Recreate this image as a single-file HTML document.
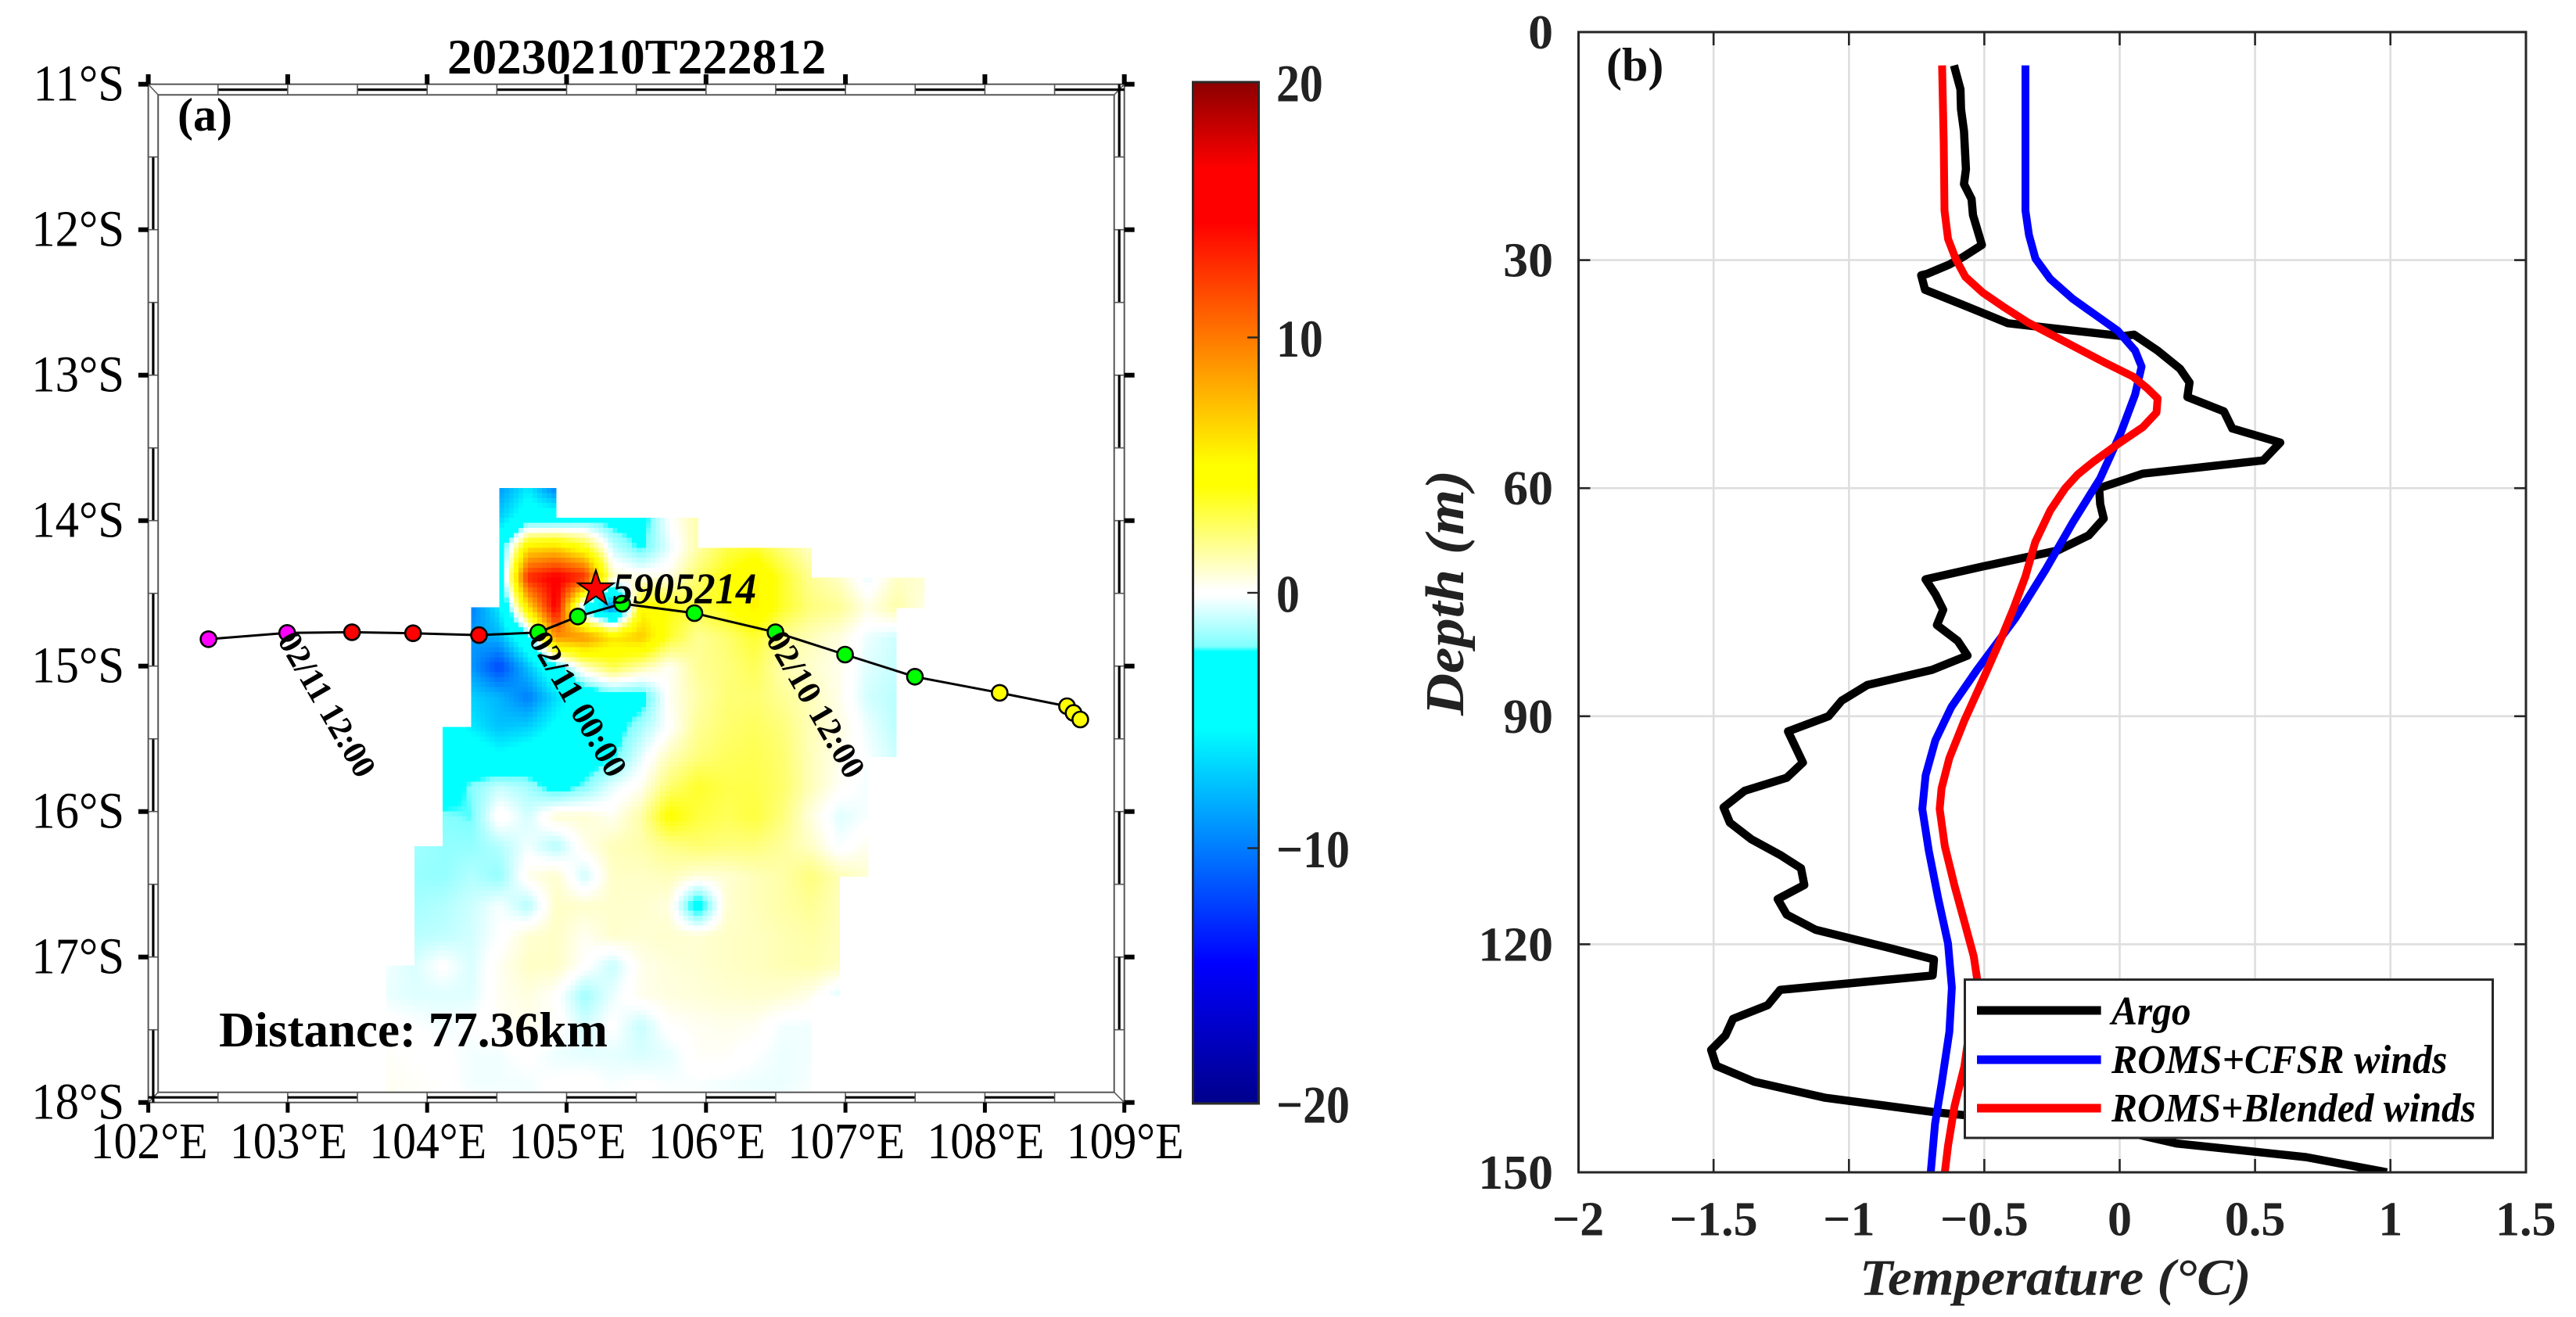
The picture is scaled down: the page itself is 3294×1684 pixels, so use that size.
<!DOCTYPE html>
<html lang="en">
<head>
<meta charset="utf-8">
<title>SST anomaly map and temperature profile</title>
<style>
html,body{margin:0;padding:0;background:#fff;}
svg{display:block;}
text{font-family:"Liberation Serif","Times New Roman",serif;}
</style>
</head>
<body>
<svg xmlns="http://www.w3.org/2000/svg" width="3294" height="1684" viewBox="0 0 3294 1684">
  <defs>
    <clipPath id="map-clip"><rect x="202" y="121.3" width="1222.7" height="1275.4"></rect></clipPath>
    <clipPath id="profile-clip"><rect x="2018.5" y="41" width="1211.5" height="1458"></rect></clipPath>
    <linearGradient id="cbar-gradient" x1="0" y1="0" x2="0" y2="1"></linearGradient>
  </defs>
  <rect x="0" y="0" width="3294" height="1684" fill="#ffffff"></rect>
  <g id="heat" clip-path="url(#map-clip)" shape-rendering="crispEdges"></g>
  <g id="frame"></g>
  <g id="track"></g>
  <g id="maplabels"></g>
  <g id="cbar"></g>
  <g id="pgrid"></g>
  <g id="plines" clip-path="url(#profile-clip)"></g>
  <g id="paxes"></g>
  <g id="legend"></g>
</svg>
<script>
// ---------- Panel (a) data ----------
const N = null;
const gridLon0 = 103.706;
const gridLat0 = 13.776;
const gridDLon = 0.2032;
const gridDLat = 0.20516;
const sstRows = [
[N,N,N,N,-9,-6,-10],
[N,N,N,N,-7,-4,-4,-3,-3,-3,0,1.5],
[N,N,N,N,-4,6,6.5,4,-1,-2.5,-.5,1.5,3,3.5,2.2,1],
[N,N,N,N,-4,13,15,13,1,.5,.5,2.5,4,5.5,3.5,1.8,1,-.5,1,.8],
[N,N,N,-10,-6,6,15,-3,-10,5,4,3,4,5.5,3.5,2.2,1.8,.5,1.5,.5],
[N,N,N,-9,-8,-3,9,9,6,7,3.5,1.8,2.4,3.4,1.8,1.2,.6,-.4,-.9],
[N,N,N,-9,-12,-7.5,-3,1,3,1.5,.2,1.8,2.2,2.8,1.4,.9,.4,-.6,-1],
[N,N,N,-7,-8,-10,-6.5,-4,-3,-3,.3,1.5,2.3,2.4,1.8,1.2,.4,-.8,-1.2],
[N,N,-3.5,-6,-7.5,-7,-5,-4,-3,-1.5,0,1.8,2.4,2.7,2.2,1.2,.6,-.4,-1.2],
[N,N,-3.2,-3.5,-5,-4,-3.5,-3.2,-2.5,-.5,1.2,2.2,2.7,2.9,2.4,1.2,.4,-.2,-.9],
[N,N,-3.2,-2,-1,-1.5,-3,-2,-.5,.3,2.4,3.5,3,3,2.5,1.2,.2,-.3],
[N,N,-2,-2.2,.3,-.8,.8,.8,.3,1.5,4.4,3.2,2.8,3.2,2.2,.6,-.6,-.2],
[N,-1.6,-1.8,-1.8,-1.3,-.3,-1.3,.4,1.2,1.4,2,2.4,2.2,2.2,1.7,1,-.2,.4],
[N,-1.7,-1.8,-1.3,-1.8,.4,.9,-.9,1,1,1.2,.7,.8,1.2,1.5,2.2,1.3,.8],
[N,-1.5,-1.3,-.9,-.2,-1.3,1,.9,.9,.9,.6,-3.5,.8,1.2,1.5,1.8,1.2],
[N,-1.2,-1.1,-.8,-.1,.8,1,.3,.9,.8,.9,.8,1,1.1,1.3,1.5,1.2],
[-.3,-.7,0,-.7,.3,1,1,.1,-1,.4,.7,.8,1,1.1,1.3,1.4,1.1],
[-.4,-.6,-.6,-.6,.3,.6,.1,-1.6,-.4,.4,.6,.7,.8,.9,.8,.4,-.7],
[.1,-.1,-.3,-.1,.2,.4,.2,-.8,0,-1,.1,.3,.4,.3,-.3,-.3],
[.2,.1,0,-.3,-.3,0,-.4,-.5,-.5,-.7,-.5,.2,.2,-.1,-.4,-.3],
[.3,.2,.1,-.3,-.3,-.3,0,.1,-.2,0,-.2,-.2,-.3,-.4,-.4,-.2],
[.3,.1,0,0,0,0,0,0,0,0,0,0,0,0,0,0]
];
const trackLon = [102.432,102.996,103.461,103.899,104.372,104.797,105.081,105.399,105.917,106.498,106.997,107.498,108.106,108.589,108.636,108.684];
const trackLat = [14.815,14.772,14.767,14.774,14.787,14.769,14.659,14.571,14.636,14.767,14.921,15.073,15.184,15.276,15.322,15.367];
const trackColors = ['#ff00ff','#ff00ff','#ff0000','#ff0000','#ff0000','#00ff00','#00ff00','#00ff00','#00ff00','#00ff00','#00ff00','#00ff00','#ffff00','#ffff00','#ffff00','#ffff00'];
const stampLabels = ['02/11 12:00','02/11 00:00','02/10 12:00'];
const stampIndex = [1,5,9];
const floatLon = [105.21];
const floatLat = [14.47];
const floatName = ['5905214'];
const lonTicks = [102,103,104,105,106,107,108,109];
const latTicks = [11,12,13,14,15,16,17,18];
const cbarTicks = [20,10,0,-10,-20];
const cmapValues = [-20,-14.5,-5.3,-2.3,-2.1,-0.1,0.1,4.2,5,14.5,16.6,20];
const cmapColors = [[0,0,139],[0,0,255],[0,255,255],[0,255,255],[128,255,255],[255,255,255],[255,255,255],[255,255,0],[255,255,0],[255,0,0],[255,0,0],[139,0,0]];

// ---------- Panel (b) data ----------
const tempTicks = [-2,-1.5,-1,-0.5,0,0.5,1,1.5];
const depthTicks = [0,30,60,90,120,150];
const argoDepth = [4.38,7.53,10.15,13.04,18.03,20,21.97,24.07,28,29.6,30.6,31.8,32,33.9,35.9,38.3,38.9,40,39.8,41.9,44.3,46.1,48,49.9,52.15,54,56.35,58.1,60,62.1,64,66.2,68.2,70.3,72,74,76,78,80.1,82.03,83.9,85.9,87.95,90,92,96.1,98.1,99.8,102,104,106.2,108.25,110,112.2,114.05,116.1,118.1,120.4,122,124.1,126,128,129.8,132,133.9,136,138.1,140.2,142.1,144.5,146.2,148,150];
const argoTemp = [-.612,-.588,-.586,-.575,-.568,-.575,-.547,-.542,-.509,-.579,-.63,-.711,-.733,-.719,-.579,-.413,-.265,.011,.053,.14,.223,.258,.25,.385,.416,.593,.53,.085,-.076,-.072,-.059,-.114,-.229,-.505,-.717,-.68,-.652,-.675,-.598,-.562,-.693,-.932,-1.027,-1.075,-1.225,-1.17,-1.23,-1.385,-1.463,-1.44,-1.36,-1.254,-1.177,-1.165,-1.263,-1.23,-1.123,-.86,-.686,-.691,-1.254,-1.3,-1.428,-1.456,-1.509,-1.49,-1.349,-1.087,-.682,0,.21,.689,.987];
const cfsrDepth = [4.38,23.5,26.7,29.8,32.5,35.1,37.2,39.3,41.9,44,47.7,52.9,58.7,64.5,70.8,77.1,83.9,88.8,93.2,97.8,102.2,107.7,114,119.9,125.7,131.5,138.4,143.6,150];
const cfsrTemp = [-.348,-.348,-.335,-.311,-.256,-.173,-.09,-.007,.057,.081,.057,.002,-.072,-.173,-.275,-.385,-.527,-.622,-.681,-.717,-.729,-.705,-.67,-.634,-.62,-.629,-.658,-.682,-.698];
const blendedDepth = [4.38,14.6,23.5,27.2,29.8,32.2,34.3,36.1,38.2,40.6,43.5,45.3,46.9,48.2,50.05,52,54.2,56.6,58.2,60,62.9,67.1,71.6,76,79.2,85,90.6,95.5,99.5,102.2,107.1,112.3,117,121.6,124.5,136.1,141.3,146.5,150];
const blendedTemp = [-.656,-.65,-.647,-.634,-.606,-.57,-.505,-.431,-.339,-.21,-.054,.048,.103,.14,.136,.085,-.007,-.1,-.155,-.201,-.256,-.312,-.348,-.394,-.431,-.503,-.574,-.629,-.658,-.665,-.646,-.61,-.574,-.539,-.527,-.574,-.61,-.634,-.646];
const legendLabels = ['Argo','ROMS+CFSR winds','ROMS+Blended winds'];
const legendColors = ['#000000','#0000ff','#ff0000'];

// ---------- Helpers ----------
const NS = 'http://www.w3.org/2000/svg';
const $ = id => document.getElementById(id);
function make(parent, tag, props) {
  const el = document.createElementNS(NS, tag);
  for (const k in props) el.setAttribute(k, props[k]);
  parent.appendChild(el);
  return el;
}
function addText(parent, str, x, y, size, o) {
  o = o || {};
  const el = make(parent, 'text', {
    transform: 'translate(' + x + ',' + y + ') ' + (o.rotate ? 'rotate(' + o.rotate + ') ' : '') + 'scale(' + (o.sx || 1) + ',1)',
    'font-size': size,
    'font-weight': o.weight || 'normal',
    'font-style': o.style || 'normal',
    'text-anchor': o.anchor || 'start',
    fill: o.fill || '#000'
  });
  el.textContent = str;
  return el;
}
const lonX = l => 189.6 + 178.3 * (l - 102);
const latY = l => 107.7 + 186 * (l - 11);
const tempX = t => 2710.5 + 346.2 * t;
const depthY = d => 41 + 9.72 * d;
function cmap(v) {
  const vs = cmapValues, cs = cmapColors;
  if (v <= vs[0]) return cs[0];
  for (let i = 1; i < vs.length; i++) {
    if (v <= vs[i]) {
      const f = (v - vs[i - 1]) / (vs[i] - vs[i - 1]);
      return [0, 1, 2].map(c => Math.round(cs[i - 1][c] + f * (cs[i][c] - cs[i - 1][c])));
    }
  }
  return cs[cs.length - 1];
}
const rgb = c => 'rgb(' + c[0] + ',' + c[1] + ',' + c[2] + ')';

// ---------- Heatmap (bilinear shading between grid nodes) ----------
(function () {
  const g = $('heat');
  const SUB = 6;
  for (let j = 0; j + 1 < sstRows.length; j++) {
    for (let i = 0; i < 19; i++) {
      const a = sstRows[j][i], b = sstRows[j][i + 1], c = sstRows[j + 1][i], d = sstRows[j + 1][i + 1];
      if (a == null || b == null || c == null || d == null) continue;
      const x0 = lonX(gridLon0 + gridDLon * i), x1 = lonX(gridLon0 + gridDLon * (i + 1));
      const y0 = latY(gridLat0 + gridDLat * j), y1 = latY(gridLat0 + gridDLat * (j + 1));
      const w = (x1 - x0) / SUB, h = (y1 - y0) / SUB;
      for (let p = 0; p < SUB; p++) {
        for (let q = 0; q < SUB; q++) {
          const u = (q + .5) / SUB, t = (p + .5) / SUB;
          const v = a * (1 - u) * (1 - t) + b * u * (1 - t) + c * (1 - u) * t + d * u * t;
          const r = make(g, 'rect', { x: (x0 + q * w).toFixed(1), y: (y0 + p * h).toFixed(1), width: (w + .6).toFixed(1), height: (h + .6).toFixed(1), fill: rgb(cmap(v)) });
          
          
        }
      }
    }
  }
})();

// ---------- Map frame ----------
(function () {
  const g = $('frame');
  const X0 = lonX(102), X1 = lonX(109), Y0 = latY(11), Y1 = latY(18);
  const IX0 = X0 + 12.6, IX1 = X1 - 13, IY0 = Y0 + 13.6, IY1 = Y1 - 13;
  const edge = '#555555';
  function line(x1, y1, x2, y2, w, col, name) {
    const l = make(g, 'line', { x1, y1, x2, y2, 'stroke-width': w, stroke: col });
    
    
    return l;
  }
  const outer = make(g, 'rect', { x: X0, y: Y0, width: X1 - X0, height: Y1 - Y0, fill: 'none', stroke: edge, 'stroke-width': 2 });
  
  
  const inner = make(g, 'rect', { x: IX0, y: IY0, width: IX1 - IX0, height: IY1 - IY0, fill: 'none', stroke: edge, 'stroke-width': 2 });
  
  
  line(X0, Y0, IX0, IY0, 1.5, edge, 'frame-corner');
  line(X1, Y0, IX1, IY0, 1.5, edge, 'frame-corner');
  line(X0, Y1, IX0, IY1, 1.5, edge, 'frame-corner');
  line(X1, Y1, IX1, IY1, 1.5, edge, 'frame-corner');
  for (let k = 0; k < 7; k++) {
    const a = 102 + k;
    line(lonX(a + .5), Y0 + 7, lonX(a + 1), Y0 + 7, 3.2, '#000', 'frame-top-segment');
    line(lonX(a), Y1 - 6.5, lonX(a + .5), Y1 - 6.5, 3.2, '#000', 'frame-bottom-segment');
    const b = 11 + k;
    line(X0 + 6.3, latY(b + .5), X0 + 6.3, latY(b + 1), 3.2, '#000', 'frame-left-segment');
    line(X1 - 6.5, latY(b), X1 - 6.5, latY(b + .5), 3.2, '#000', 'frame-right-segment');
    for (const h of [.5, 1]) {
      if (!(k === 6 && h === 1)) {
        line(lonX(a + h), Y0, lonX(a + h), IY0, 1.6, edge, 'frame-divider');
        line(lonX(a + h), IY1, lonX(a + h), Y1, 1.6, edge, 'frame-divider');
        line(X0, latY(b + h), IX0, latY(b + h), 1.6, edge, 'frame-divider');
        line(IX1, latY(b + h), X1, latY(b + h), 1.6, edge, 'frame-divider');
      }
    }
  }
  for (const lon of lonTicks) {
    const x = lonX(lon);
    line(x, Y0 - 12.7, x, Y0, 6, '#000', 'top-tick');
    line(x, Y1, x, Y1 + 13, 5, '#000', 'bottom-tick');
    const lab = addText(g, lon + '°E', x + 1, 1481, 66, { anchor: 'middle', sx: .905 });
    
    
  }
  for (const lat of latTicks) {
    const y = latY(lat);
    line(X0 - 12.7, y, X0, y, 6, '#000', 'left-tick');
    line(X1, y, X1 + 13, y, 6, '#000', 'right-tick');
    const lab = addText(g, lat + '°S', 159, y + 21, 66, { anchor: 'end', sx: .92 });
    
    
  }
})();

// ---------- Track ----------
(function () {
  const g = $('track');
  const pts = trackLon.map((l, i) => lonX(l).toFixed(1) + ',' + latY(trackLat[i]).toFixed(1)).join(' ');
  const pl = make(g, 'polyline', { points: pts, fill: 'none', stroke: '#000', 'stroke-width': 3 });
  
  
  trackLon.forEach((l, i) => {
    const c = make(g, 'circle', { cx: lonX(l).toFixed(1), cy: latY(trackLat[i]).toFixed(1), r: 10, fill: trackColors[i], stroke: '#000', 'stroke-width': 2.6 });
    
    
  });
})();

// ---------- Map labels ----------
(function () {
  const g = $('maplabels');
  const cx = lonX(floatLon[0]), cy = latY(floatLat[0]);
  const pts = [];
  for (let i = 0; i < 10; i++) {
    const r = i % 2 ? 9.2 : 24, a = -Math.PI / 2 + i * Math.PI / 5;
    pts.push((cx + r * Math.cos(a)).toFixed(1) + ',' + (cy + r * Math.sin(a)).toFixed(1));
  }
  const star = make(g, 'polygon', { points: pts.join(' '), fill: '#ff0000', stroke: '#000', 'stroke-width': 2 });
  
  
  const fl = addText(g, floatName[0], 783, 771.7, 56, { weight: 'bold', style: 'italic', sx: .94 });
  
  
  stampLabels.forEach((s, k) => {
    const idx = stampIndex[k];
    const t = addText(g, s, lonX(trackLon[idx]) - 13, latY(trackLat[idx]) + 9, 43, { weight: 'bold', rotate: 60 });
    
    
  });
  const title = addText(g, '20230210T222812', 572, 94, 63.5, { weight: 'bold', sx: .995 });
  
  
  const pa = addText(g, '(a)', 227, 167, 60, { weight: 'bold' });
  
  
  const dist = addText(g, 'Distance: 77.36km', 280, 1338, 63, { weight: 'bold' });
  
  
})();

// ---------- Colorbar ----------
(function () {
  const g = $('cbar');
  const grad = $('cbar-gradient');
  const valY = v => 758 - 32.65 * v;
  for (let i = cmapValues.length - 1; i >= 0; i--) {
    make(grad, 'stop', { offset: ((20 - cmapValues[i]) / 40).toFixed(4), 'stop-color': rgb(cmapColors[i]) });
  }
  const bar = make(g, 'rect', { x: 1525.5, y: valY(20), width: 84, height: valY(-20) - valY(20), fill: 'url(#cbar-gradient)', stroke: '#2a2a2a', 'stroke-width': 3 });
  
  
  cbarTicks.forEach(v => {
    if (Math.abs(v) < 20) {
      const t = make(g, 'line', { x1: 1595, x2: 1609, y1: valY(v), y2: valY(v), stroke: '#262626', 'stroke-width': 2.4 });
      
      
    }
    const s = (v < 0 ? '\u2212' : '') + Math.abs(v);
    const lab = addText(g, s, 1632, valY(v) + 24.5, 68, { weight: 'bold', sx: .88, fill: '#222222' });
    
    
  });
})();

// ---------- Profile grid ----------
(function () {
  const g = $('pgrid');
  tempTicks.forEach(t => {
    if (t > -2 && t < 1.5) {
      const l = make(g, 'line', { x1: tempX(t), x2: tempX(t), y1: 41, y2: 1499, stroke: '#dedede', 'stroke-width': 2.6 });
      
      
    }
  });
  depthTicks.forEach(d => {
    if (d > 0 && d < 150) {
      const l = make(g, 'line', { x1: 2018.5, x2: 3230, y1: depthY(d), y2: depthY(d), stroke: '#dedede', 'stroke-width': 2.6 });
      
      
    }
  });
})();

// ---------- Profile lines ----------
(function () {
  const g = $('plines');
  const toPts = (ts, ds) => ts.map((t, i) => tempX(t).toFixed(1) + ',' + depthY(ds[i]).toFixed(1)).join(' ');
  const a = make(g, 'polyline', { points: toPts(argoTemp, argoDepth), fill: 'none', stroke: legendColors[0], 'stroke-width': 10.5, 'stroke-linejoin': 'round' });
  
  
  const b = make(g, 'polyline', { points: toPts(cfsrTemp, cfsrDepth), fill: 'none', stroke: legendColors[1], 'stroke-width': 10, 'stroke-linejoin': 'round' });
  
  
  const c = make(g, 'polyline', { points: toPts(blendedTemp, blendedDepth), fill: 'none', stroke: legendColors[2], 'stroke-width': 10, 'stroke-linejoin': 'round' });
  
  
})();

// ---------- Profile axes ----------
(function () {
  const g = $('paxes');
  const box = make(g, 'rect', { x: 2018.5, y: 41, width: 1211.5, height: 1458, fill: 'none', stroke: '#262626', 'stroke-width': 3 });
  
  
  tempTicks.forEach(t => {
    const x = tempX(t);
    if (t > -2 && t < 1.5) {
      const up = make(g, 'line', { x1: x, x2: x, y1: 41, y2: 58, stroke: '#262626', 'stroke-width': 2.6 });
      
      
      const dn = make(g, 'line', { x1: x, x2: x, y1: 1482, y2: 1499, stroke: '#262626', 'stroke-width': 2.6 });
      
      
    }
    const s = (t < 0 ? '\u2212' : '') + Math.abs(t);
    const lab = addText(g, s, x, 1579.6, 62, { weight: 'bold', anchor: 'middle', sx: 1, fill: '#222222' });
    
    
  });
  depthTicks.forEach(d => {
    const y = depthY(d);
    if (d > 0 && d < 150) {
      const l = make(g, 'line', { x1: 2018.5, x2: 2033.5, y1: y, y2: y, stroke: '#262626', 'stroke-width': 2.6 });
      
      
      const r = make(g, 'line', { x1: 3215, x2: 3230, y1: y, y2: y, stroke: '#262626', 'stroke-width': 2.6 });
      
      
    }
    const lab = addText(g, String(d), 1986, y + 21, 62, { weight: 'bold', anchor: 'end', sx: 1.03, fill: '#222222' });
    
    
  });
  const xt = addText(g, 'Temperature (°C)', 2378, 1655.7, 66, { weight: 'bold', style: 'italic', sx: 1.05, fill: '#222222' });
  
  
  const yt = addText(g, 'Depth (m)', 1871, 758, 70, { weight: 'bold', style: 'italic', anchor: 'middle', rotate: -90, sx: 1.07, fill: '#222222' });
  
  
  const pb = addText(g, '(b)', 2054, 103, 60, { weight: 'bold', fill: '#111111' });
  
  
})();

// ---------- Legend ----------
(function () {
  const g = $('legend');
  const box = make(g, 'rect', { x: 2512.5, y: 1252.6, width: 675, height: 202.4, fill: '#fff', stroke: '#262626', 'stroke-width': 3 });
  
  
  const rowY = [1292, 1355, 1417];
  const baseY = [1310, 1372, 1434];
  const sxs = [.95, .96, .95];
  legendLabels.forEach((s, i) => {
    const l = make(g, 'line', { x1: 2528, x2: 2686.6, y1: rowY[i], y2: rowY[i], stroke: legendColors[i], 'stroke-width': 11 });
    
    
    const t = addText(g, s, 2700, baseY[i], 52, { weight: 'bold', style: 'italic', sx: sxs[i] });
    
    
  });
})();
</script>
</body>
</html>
